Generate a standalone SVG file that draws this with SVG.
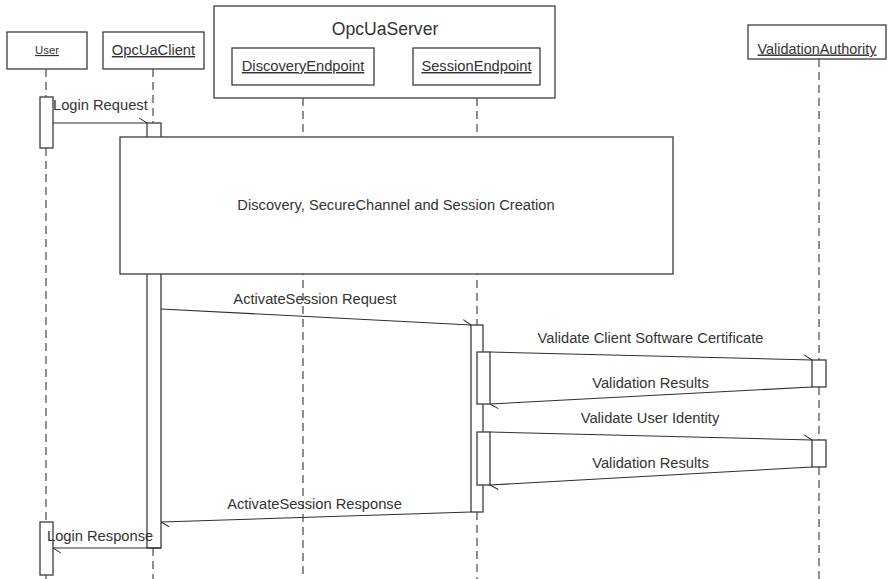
<svg xmlns="http://www.w3.org/2000/svg" width="889" height="579" viewBox="0 0 889 579">
<defs>
<style>
.box{fill:#fff;stroke:#3c3c3c;stroke-width:1.3}
.act{fill:#fff;stroke:#3c3c3c;stroke-width:1.3}
.life{stroke:#555;stroke-width:1.3;stroke-dasharray:8 5;fill:none}
.msg{stroke:#2e2e2e;stroke-width:1.1;fill:none;marker-end:url(#half)}
text{font-family:"Liberation Sans",Arial,sans-serif;font-size:14.7px;fill:#333}
.u{text-decoration:underline}
.c{text-anchor:middle}
</style>
<marker id="half" markerUnits="userSpaceOnUse" markerWidth="20" markerHeight="20" refX="10" refY="10" orient="auto" viewBox="0 0 20 20">
<path d="M2 5 L10 10" stroke="#2e2e2e" stroke-width="1" fill="none"/>
</marker>
</defs>
<rect width="889" height="579" fill="#fff"/>

<g id="lifelines">
<line class="life" x1="46" y1="69" x2="46" y2="97"/>
<line class="life" x1="46" y1="148" x2="46" y2="522"/>
<line class="life" x1="46" y1="575" x2="46" y2="579"/>
<line class="life" x1="153" y1="69" x2="153" y2="123"/>
<line class="life" x1="153" y1="548" x2="153" y2="579"/>
<line class="life" x1="303" y1="85" x2="303" y2="579"/>
<line class="life" x1="477" y1="85" x2="477" y2="325"/>
<line class="life" x1="477" y1="512" x2="477" y2="579"/>
<line class="life" x1="819" y1="59" x2="819" y2="360"/>
<line class="life" x1="819" y1="387" x2="819" y2="440"/>
<line class="life" x1="819" y1="467" x2="819" y2="579"/>
</g>

<g id="User">
<rect class="box" x="7" y="32" width="80" height="37"/>
<text class="u c" x="47" y="54" style="font-size:11.4px">User</text>
</g>
<g id="OpcUaClient">
<rect class="box" x="103" y="32" width="101" height="37"/>
<text class="u c" x="153.5" y="55">OpcUaClient</text>
</g>
<g id="OpcUaServer">
<rect class="box" x="214" y="6" width="341" height="92"/>
<text class="c" x="385" y="35" style="font-size:17.6px">OpcUaServer</text>
</g>
<g id="DiscoveryEndpoint">
<rect class="box" x="232" y="48" width="142" height="37"/>
<text class="u c" x="303" y="71">DiscoveryEndpoint</text>
</g>
<g id="SessionEndpoint">
<rect class="box" x="413" y="48" width="127" height="37"/>
<text class="u c" x="476.5" y="71">SessionEndpoint</text>
</g>
<g id="ValidationAuthority">
<rect class="box" x="748" y="25" width="138" height="34"/>
<text class="u c" x="817" y="53.5" style="font-size:14.4px">ValidationAuthority</text>
</g>

<g id="activations">
<rect class="act" x="40" y="97" width="13" height="51"/>
<rect class="act" x="147" y="123" width="14" height="425"/>
<rect class="act" x="471" y="325" width="12" height="187"/>
<rect class="act" x="477" y="352" width="13" height="52"/>
<rect class="act" x="477" y="432" width="13" height="53"/>
<rect class="act" x="812" y="360" width="14" height="27"/>
<rect class="act" x="812" y="440" width="14" height="27"/>
<rect class="act" x="40" y="522" width="13" height="53"/>
</g>

<g id="DiscoveryFrame">
<rect class="box" x="120" y="137" width="553" height="137"/>
<text class="c" x="396" y="210">Discovery, SecureChannel and Session Creation</text>
</g>

<g id="connectors">
<line class="msg" x1="53" y1="123" x2="147" y2="123"/>
<line class="msg" x1="161" y1="309" x2="471" y2="325"/>
<line class="msg" x1="490" y1="352" x2="812" y2="360"/>
<line class="msg" x1="812" y1="387" x2="490" y2="404"/>
<line class="msg" x1="490" y1="432" x2="812" y2="440"/>
<line class="msg" x1="812" y1="467" x2="490" y2="485"/>
<line class="msg" x1="471" y1="512" x2="161" y2="522"/>
<line class="msg" x1="147" y1="548" x2="53" y2="548"/>
<line x1="147" y1="548" x2="161" y2="548" stroke="#2e2e2e" stroke-width="1.1"/>
</g>

<g id="labels">
<text x="53" y="110">Login Request</text>
<text class="c" x="315" y="304">ActivateSession Request</text>
<text class="c" x="650.5" y="343">Validate Client Software Certificate</text>
<text class="c" x="650.5" y="388">Validation Results</text>
<text class="c" x="650" y="423">Validate User Identity</text>
<text class="c" x="650.5" y="468">Validation Results</text>
<text class="c" x="314.5" y="509">ActivateSession Response</text>
<text x="47" y="541">Login Response</text>
</g>
</svg>
